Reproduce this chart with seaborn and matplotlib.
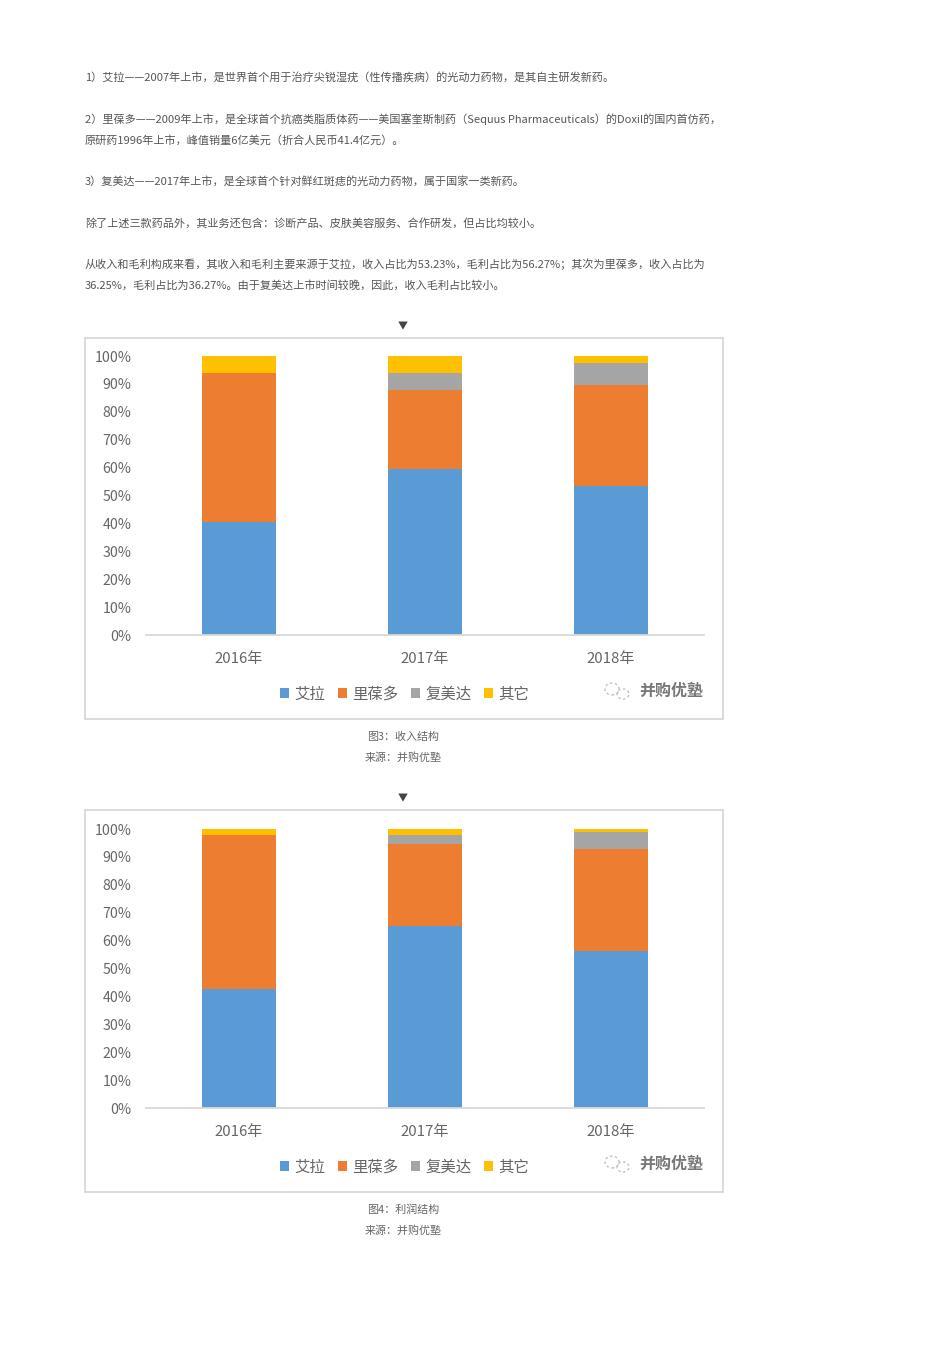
import numpy as np
import pandas as pd
import matplotlib.pyplot as plt
import seaborn as sns
from matplotlib.patches import Rectangle, Ellipse

W, H = 950, 1345

years = ["2016年", "2017年", "2018年"]
series_names = ["艾拉", "里葆多", "复美达", "其它"]
colors = ["#5B9BD5", "#ED7D31", "#A5A5A5", "#FFC000"]
pct_ticks = [0, 10, 20, 30, 40, 50, 60, 70, 80, 90, 100]

# 图3 收入结构
income_aila = [40.5, 59.5, 53.23]
income_lipu = [53.5, 28.3, 36.25]
income_fumei = [0, 6.1, 7.9]
income_other = [6.0, 6.1, 2.62]

# 图4 利润结构
profit_aila = [42.6, 65.2, 56.27]
profit_lipu = [55.2, 29.4, 36.5]
profit_fumei = [0, 3.2, 6.1]
profit_other = [2.2, 2.2, 1.13]

para_lines = [
    (77, "1）艾拉——2007年上市，是世界首个用于治疗尖锐湿疣（性传播疾病）的光动力药物，是其自主研发新药。"),
    (119, "2）里葆多——2009年上市，是全球首个抗癌类脂质体药——美国塞奎斯制药（Sequus Pharmaceuticals）的Doxil的国内首仿药，"),
    (140, "原研药1996年上市，峰值销量6亿美元（折合人民币41.4亿元）。"),
    (181, "3）复美达——2017年上市，是全球首个针对鲜红斑痣的光动力药物，属于国家一类新药。"),
    (223, "除了上述三款药品外，其业务还包含：诊断产品、皮肤美容服务、合作研发，但占比均较小。"),
    (264, "从收入和毛利构成来看，其收入和毛利主要来源于艾拉，收入占比为53.23%，毛利占比为56.27%；其次为里葆多，收入占比为"),
    (285, "36.25%，毛利占比为36.27%。由于复美达上市时间较晚，因此，收入毛利占比较小。"),
]

sns.set_theme(style="white")
plt.rcParams["font.family"] = ["Noto Sans CJK SC", "DejaVu Sans"]

fig = plt.figure(figsize=(W / 100, H / 100), dpi=100, facecolor="white")


def px_text(x, y, s, size, color="#555555", ha="left", weight="normal"):
    fig.text(x / W, 1 - y / H, s, fontsize=size * 0.72, color=color, ha=ha, va="center", fontweight=weight)


def draw_chart(top, frame_bottom, zero_y, full_y, stacks, caption):
    # 外框
    fig.add_artist(Rectangle((84.5 / W, 1 - frame_bottom / H), 638 / W, (frame_bottom - top) / H,
                             transform=fig.transFigure, fill=False, edgecolor="#D9D9D9", linewidth=1.3))
    ax = fig.add_axes([146 / W, 1 - zero_y / H, 558 / W, (zero_y - full_y) / H])
    bottom = np.zeros(len(years))
    for name, vals, c in zip(series_names, stacks, colors):
        df = pd.DataFrame({"year": years, "value": vals})
        sns.barplot(data=df, x="year", y="value", color=c, saturation=1, width=0.4,
                    bottom=bottom, label=name, errorbar=None, linewidth=0, legend=False, ax=ax)
        bottom = bottom + np.array(vals)
    handles, labels = ax.get_legend_handles_labels()
    if ax.get_legend() is not None:
        ax.get_legend().remove()
    ax.set_xlim(-0.5, 2.5)
    ax.set_ylim(0, 100)
    ax.set_yticks(pct_ticks)
    ax.set_yticklabels([f"{t}%" for t in pct_ticks])
    ax.set_xlabel("")
    ax.set_ylabel("")
    ax.tick_params(axis="y", length=0, pad=10.5, labelsize=10.2, labelcolor="#666666")
    ax.tick_params(axis="x", length=0, pad=12, labelsize=10.8, labelcolor="#666666")
    ax.grid(False)
    sns.despine(ax=ax, left=True)
    ax.spines["bottom"].set_color("#D9D9D9")
    ax.spines["bottom"].set_linewidth(1.3)
    ax.patch.set_alpha(0)

    fig.legend(handles, labels, ncol=4, frameon=False, loc="center left",
               bbox_to_anchor=(280 / W, 1 - (zero_y + 59) / H), fontsize=11.1,
               labelcolor="#666666", handlelength=0.6, handleheight=0.6,
               handletextpad=0.35, columnspacing=0.8, borderpad=0, borderaxespad=0)

    # 水印
    wy = zero_y + 56
    px_text(639, wy, "并购优塾", 16, color="#777777", weight="bold")
    for dx, dy, r in [(-5, -2, 7), (6, 3, 6)]:
        fig.add_artist(Ellipse(((617 + dx) / W, 1 - (wy + dy) / H), 2 * r / W, 1.7 * r / H,
                               transform=fig.transFigure, fill=False, edgecolor="#BBBBBB",
                               linestyle=(0, (2, 2)), linewidth=0.9))

    px_text(403, top - 12, "▼", 10, color="#444444", ha="center")
    px_text(403, frame_bottom + 18, caption, 11, color="#666666", ha="center")
    px_text(403, frame_bottom + 39, "来源：并购优塾", 11, color="#666666", ha="center")


for y, line in para_lines:
    px_text(85, y, line, 11.1)

draw_chart(338, 719, 635, 356, [income_aila, income_lipu, income_fumei, income_other], "图3：收入结构")
draw_chart(810, 1192, 1108, 829, [profit_aila, profit_lipu, profit_fumei, profit_other], "图4：利润结构")

fig.savefig("out.png", dpi=100, facecolor="white")
